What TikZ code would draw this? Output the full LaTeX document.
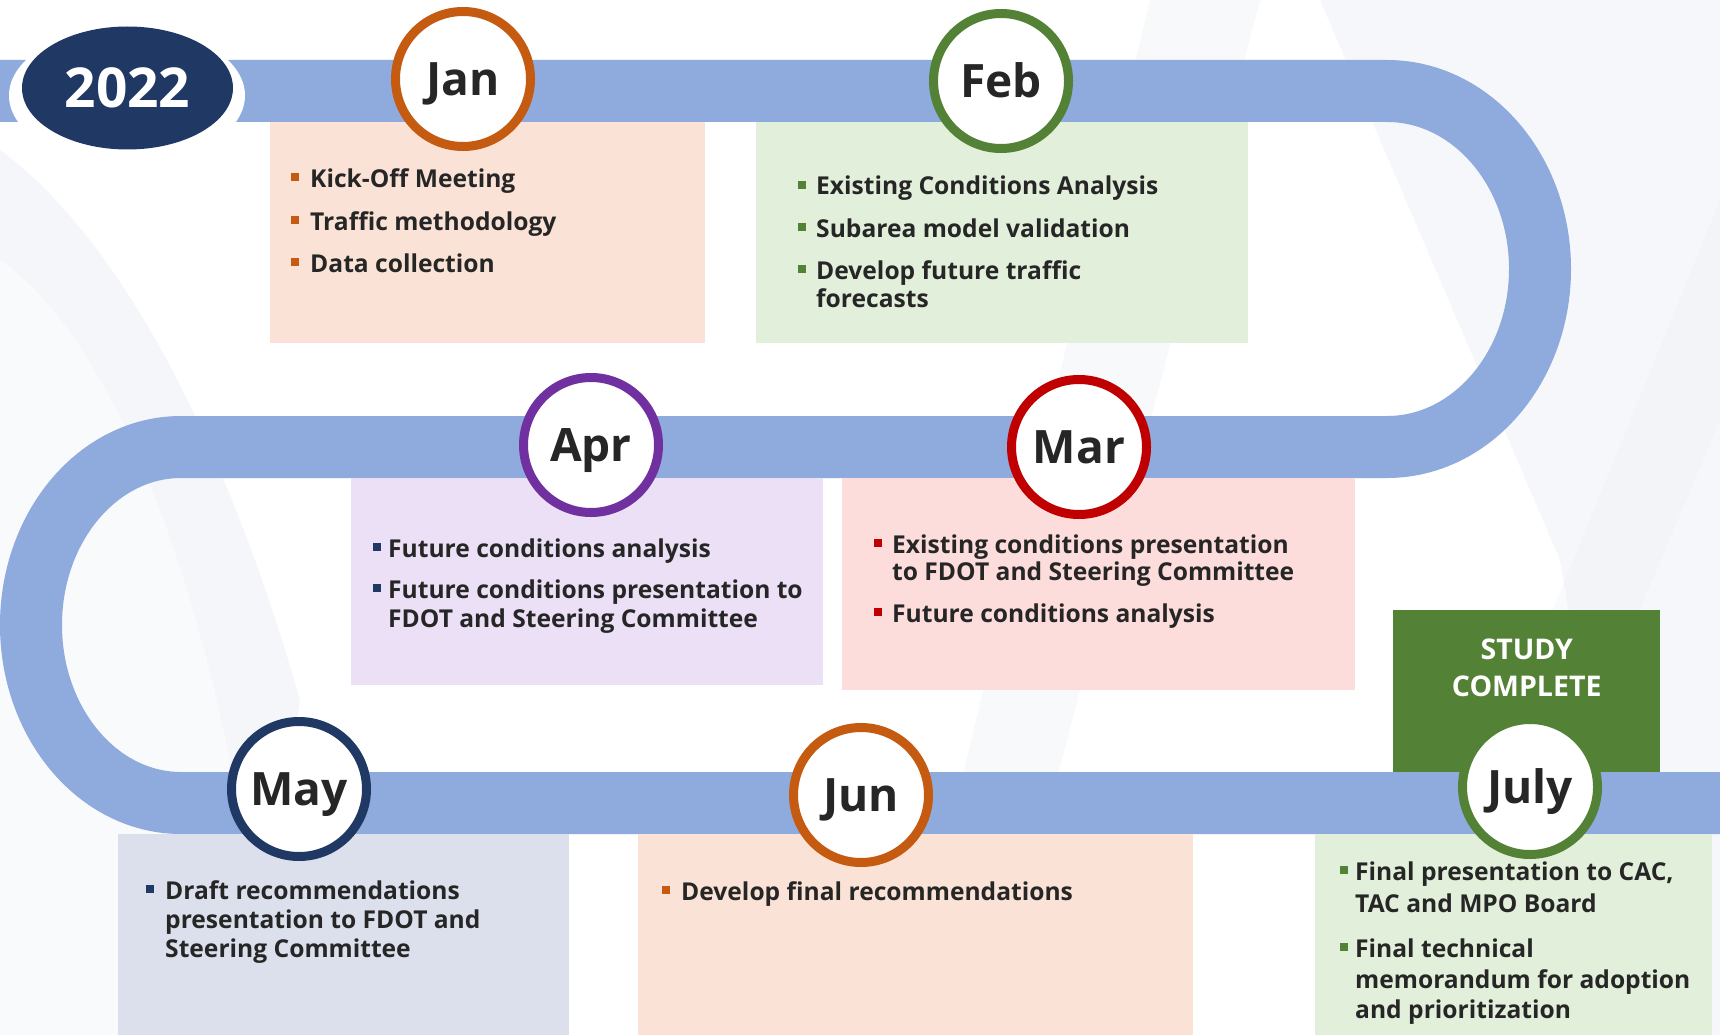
\documentclass[tikz,border=0pt]{standalone}
\usepackage{fontspec}
\setmainfont{Open Sans}
\usetikzlibrary{shapes.geometric}
\definecolor{bandc}{HTML}{8FAADC}
\definecolor{navyc}{HTML}{1F3864}
\definecolor{orangec}{HTML}{C55A11}
\definecolor{greenc}{HTML}{538135}
\definecolor{purplec}{HTML}{7030A0}
\definecolor{redc}{HTML}{C00000}
\definecolor{txtc}{HTML}{262626}
\definecolor{peachc}{HTML}{FAE3D6}
\definecolor{mintc}{HTML}{E2EFDA}
\definecolor{lilacc}{HTML}{EBE0F5}
\definecolor{pinkc}{HTML}{FDDCDC}
\definecolor{greyblc}{HTML}{DCE0EC}
\definecolor{bgc}{HTML}{EEF1F6}
\begin{document}
\begin{tikzpicture}[x=1pt,y=-1pt,
  month/.style={circle, draw=#1, line width=9pt, fill=white, minimum size=135pt, inner sep=0pt,
    font=\fontsize{46}{50}\selectfont\bfseries, text=txtc, text height=33pt, text depth=0pt},
  txt/.style={anchor=base west, inner sep=0pt, font=\fontsize{24.6}{28}\selectfont\bfseries, text=txtc},
  bul/.style={fill=#1, minimum size=8pt, inner sep=0pt, draw=none},
  panel/.style={fill=#1, draw=none}]
\useasboundingbox (0,0) rectangle (1720,1035);
\fill[white] (0,0) rectangle (1720,1035);
% faint background swooshes
\fill[bgc, opacity=0.6] (0,150) .. controls (110,230) and (220,420) .. (300,700) -- (250,1035) -- (0,1035) -- cycle;
\fill[white, opacity=0.5] (0,260) .. controls (100,330) and (180,520) .. (230,760) -- (200,1035) -- (0,1035) -- cycle;
\fill[bgc, opacity=0.5] (1090,0) -- (1720,0) -- (1720,1035) -- (1640,1035) -- (1560,560) -- (1320,0) -- cycle;
\fill[bgc, opacity=0.4] (1150,0) -- (1260,0) -- (990,1035) -- (900,1035) -- cycle;
\fill[bgc, opacity=0.35] (1720,200) -- (1720,420) -- (1460,1035) -- (1380,1035) -- cycle;
% the road
\draw[bandc, line width=62pt]
  (0,91) -- (1387,91)
  .. controls (1471.5,91) and (1540,170.7) .. (1540,269)
  .. controls (1540,367.3) and (1471.5,447) .. (1387,447)
  -- (181,447)
  .. controls (98.2,447) and (31,526.7) .. (31,625)
  .. controls (31,723.3) and (98.2,803) .. (181,803)
  -- (1720,803);
% panels
\fill[panel=peachc] (270,122) rectangle (705,343);
\fill[panel=mintc] (756,122) rectangle (1248,343);
\fill[panel=lilacc] (351,478) rectangle (823,685);
\fill[panel=pinkc] (842,478) rectangle (1355,690);
\fill[panel=greyblc] (118,834) rectangle (569,1035);
\fill[panel=peachc] (638,834) rectangle (1193,1035);
\fill[panel=mintc] (1315,834) rectangle (1712,1035);
\node[fill=greenc, minimum width=267pt, minimum height=162pt, inner sep=0pt, anchor=north west,
  text=white, font=\fontsize{28.5}{37}\selectfont\bfseries, align=center, text depth=48pt] (study) at (1393,610) {STUDY\\COMPLETE};
% year badge
\node[ellipse, fill=white, minimum width=236pt, minimum height=137pt, inner sep=0pt] (yearring) at (127,95.5) {};
\node[ellipse, fill=navyc, minimum width=211pt, minimum height=123pt, inner sep=0pt,
  text=white, font=\fontsize{55}{60}\selectfont\bfseries, text height=39pt, text depth=0pt] (year) at (127.5,88) {2022};
% month circles
\node[month=orangec] (jan) at (463,79) {Jan};
\node[month=greenc] (feb) at (1001,81) {Feb};
\node[month=purplec] (apr) at (591,445) {Apr};
\node[month=redc] (mar) at (1079,447) {Mar};
\node[month=navyc] (may) at (299,789) {May};
\node[month=orangec] (jun) at (861,795) {Jun};
\node[month=greenc] (july) at (1530,787) {July};
% Jan
\node[bul=orangec] (janb1) at (295,177) {};
\node[txt] (jant1) at (310,187) {Kick-Off Meeting};
\node[bul=orangec] (janb2) at (295,220) {};
\node[txt] (jant2) at (310,230) {Traffic methodology};
\node[bul=orangec] (janb3) at (295,262) {};
\node[txt] (jant3) at (310,272) {Data collection};
% Feb
\node[bul=greenc] (febb1) at (802,185) {};
\node[txt] (febt1) at (816,195) {Existing Conditions Analysis};
\node[bul=greenc] (febb2) at (802,227) {};
\node[txt] (febt2) at (816,237) {Subarea model validation};
\node[bul=greenc] (febb3) at (802,269) {};
\node[txt] (febt3) at (816,279) {Develop future traffic};
\node[txt] (febt3b) at (816,307) {forecasts};
% Apr
\node[bul=navyc] (aprb1) at (377,547) {};
\node[txt] (aprt1) at (388,557) {Future conditions analysis};
\node[bul=navyc] (aprb2) at (377,588) {};
\node[txt] (aprt2) at (388,598) {Future conditions presentation to};
\node[txt] (aprt2b) at (388,627) {FDOT and Steering Committee};
% Mar
\node[bul=redc] (marb1) at (878,543) {};
\node[txt] (mart1) at (892,553) {Existing conditions presentation};
\node[txt] (mart1b) at (892,580) {to FDOT and Steering Committee};
\node[bul=redc] (marb2) at (878,612) {};
\node[txt] (mart2) at (892,622) {Future conditions analysis};
% May
\node[bul=navyc] (mayb1) at (150,889) {};
\node[txt] (mayt1) at (165,899) {Draft recommendations};
\node[txt] (mayt1b) at (165,928) {presentation to FDOT and};
\node[txt] (mayt1c) at (165,957) {Steering Committee};
% Jun
\node[bul=orangec] (junb1) at (666,890) {};
\node[txt] (junt1) at (681,900) {Develop final recommendations};
% July
\node[bul=greenc] (julyb1) at (1344,870) {};
\node[txt] (julyt1) at (1355,880) {Final presentation to CAC,};
\node[txt] (julyt1b) at (1355,912) {TAC and MPO Board};
\node[bul=greenc] (julyb2) at (1344,947) {};
\node[txt] (julyt2) at (1355,957) {Final technical};
\node[txt] (julyt2b) at (1355,988) {memorandum for adoption};
\node[txt] (julyt2c) at (1355,1018) {and prioritization};
\end{tikzpicture}
\end{document}
